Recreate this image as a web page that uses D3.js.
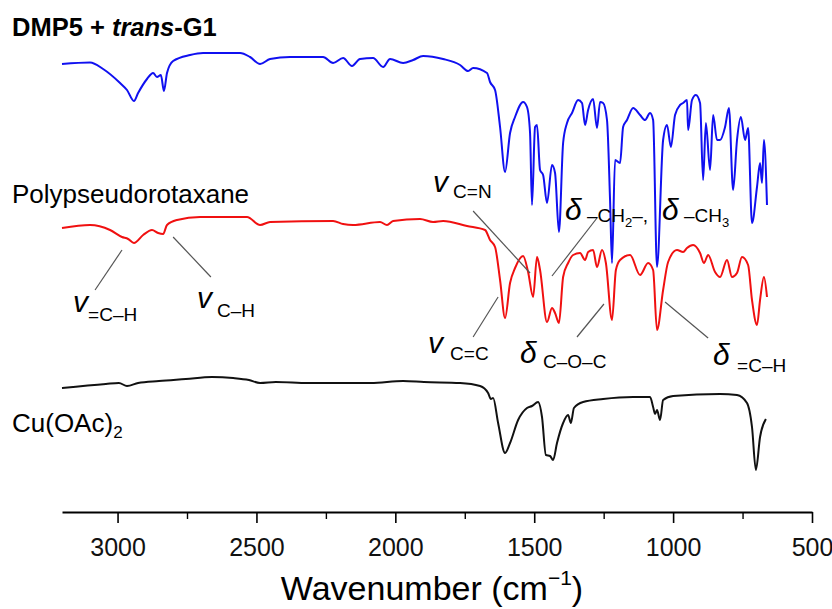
<!DOCTYPE html>
<html>
<head>
<meta charset="utf-8">
<script src="https://cdn.jsdelivr.net/npm/d3@7"></script>
<style>
  body { margin: 0; background: #fff; }
  svg { font-family: "Liberation Sans", Arial, sans-serif; }
</style>
</head>
<body>
<div id="chart"></div>
<script>
// wavenumber (cm-1) and stacked transmittance (a.u.)
var blueWn = [3200,3099,3052,2991,2966,2941,2926,2894,2872,2858,2844,2833,2822,2800,2739,2692,2559,2523,2487,2451,2379,2260,2224,2188,2156,2127,2080,2044,2019,1972,1936,1900,1828,1767,1738,1720,1670,1659,1641,1623,1605,1587,1569,1540,1526,1515,1508,1497,1490,1479,1468,1454,1436,1425,1411,1396,1382,1364,1342,1328,1317,1306,1288,1274,1263,1252,1238,1227,1220,1209,1191,1180,1166,1144,1119,1101,1083,1072,1058,1036,1022,1008,993,975,964,950,946,932,918,903,892,882,867,856,842,831,813,799,784,770,756,741,730,716,698,687,680,673,662];
var blueT  = [89.6,89.9,88.6,85.8,84.4,82.2,83.8,86.6,87.8,87.0,87.4,84.2,87.8,90.2,91.4,91.8,91.8,91.0,89.6,90.6,91.0,91.0,89.8,90.8,89.2,90.6,90.8,89.0,90.6,89.8,90.4,91.2,90.6,89.4,88.2,88.8,87.8,86.0,84.4,77.0,68.0,75.8,79.0,82.0,81.0,75.8,61.4,77.0,77.4,68.4,67.4,61.8,69.4,67.8,56.0,73.8,77.8,79.8,82.4,81.8,77.4,80.4,82.6,76.8,82.0,81.8,78.4,62.4,49.8,70.4,69.8,77.0,78.4,80.8,79.4,78.4,79.8,78.4,49.0,74.4,77.4,73.0,79.4,81.4,81.8,82.4,76.4,82.4,83.4,81.8,66.4,77.8,68.4,79.4,74.4,74.4,77.0,80.8,64.4,74.4,79.0,74.4,76.8,57.8,65.0,69.8,65.8,74.4,61.4];

var redWn = [3200,3099,3027,2984,2962,2941,2908,2876,2854,2836,2822,2786,2703,2534,2487,2451,2224,2188,2152,2055,2030,2008,1911,1864,1828,1742,1677,1659,1641,1623,1605,1587,1569,1540,1522,1504,1490,1479,1454,1436,1425,1411,1396,1378,1360,1335,1317,1306,1288,1274,1256,1242,1220,1206,1191,1155,1119,1090,1072,1058,1036,1018,986,964,950,928,903,889,874,849,831,806,788,770,752,730,716,698,687,673,662];
var redT  = [56.8,57.4,56.4,55.0,54.6,53.8,55.4,56.4,55.8,55.6,57.4,58.4,59.0,59.0,57.4,58.0,58.2,57.6,57.4,58.0,57.4,58.2,58.6,58.0,58.2,57.2,56.4,54.4,53.0,46.4,38.8,45.8,48.8,51.2,48.0,43.0,51.0,48.4,38.0,40.8,39.8,37.8,47.0,49.8,51.4,51.8,50.4,52.0,52.4,49.0,52.4,49.8,38.4,48.4,50.4,51.4,47.4,49.8,48.4,36.4,44.4,50.0,52.4,52.0,52.8,53.4,51.8,49.8,51.4,48.0,47.0,50.4,47.0,47.8,51.0,49.4,42.4,37.4,42.4,47.0,43.0];

var blackWn = [3200,3042,2995,2966,2926,2851,2754,2660,2584,2527,2487,2430,2314,2088,1972,1897,1767,1695,1666,1656,1648,1630,1605,1587,1558,1526,1508,1486,1472,1458,1443,1432,1418,1396,1378,1368,1357,1324,1252,1144,1083,1072,1065,1058,1047,1036,1000,831,770,734,716,702,687,666];
var blackT  = [24.8,25.6,25.8,25.2,25.8,26.2,26.6,27.0,26.8,26.4,25.8,26.0,25.8,25.8,26.2,26.0,25.8,25.2,23.8,22.6,22.8,17.8,11.8,13.8,18.4,20.8,21.2,22.0,19.0,11.4,11.2,10.4,13.8,17.8,19.4,17.8,20.8,22.0,22.6,23.0,23.0,21.0,19.6,20.4,18.4,22.4,23.2,23.6,23.4,21.8,17.0,8.4,15.0,18.6];

var seriesNames  = ["DMP5 + trans-G1", "Polypseudorotaxane", "Cu(OAc)2"];
var seriesColors = ["#1010f0", "#f01010", "#111111"];

var majorTicks = [3000, 2500, 2000, 1500, 1000, 500];
var minorTicks = [2750, 2250, 1750, 1250, 750];

// band assignments: symbol, subscript, label anchor, pointer from -> to
var annotations = [
  {sym: "v", sub: "=C\u2013H", at: [3160, 40.0], gap: 15, drop: 9, from: [3081, 44.4], to: [2984, 52.4]},
  {sym: "v", sub: "C\u2013H",  at: [2714, 40.8], gap: 20, drop: 9, from: [2664, 47.0], to: [2800, 55.0]},
  {sym: "v", sub: "C=N",  at: [1864, 64.0], gap: 20, drop: 6, from: [1720, 60.2], to: [1515, 47.8]},
  {sym: "v", sub: "C=C",  at: [1882, 31.8], gap: 22, drop: 7, from: [1720, 35.0], to: [1630, 43.0]},
  {sym: "\u03b4", sub: "C\u2013O\u2013C", at: [1551, 29.8], gap: 23, drop: 5, from: [1346, 35.0], to: [1249, 41.6]},
  {sym: "\u03b4", sub: "=C\u2013H", at: [856, 29.4], gap: 24, drop: 7, from: [1029, 42.0], to: [874, 34.8]}
];

var W = 832, H = 609;
var svg = d3.select("#chart").append("svg")
  .attr("width", W).attr("height", H);

var x = d3.scaleLinear().domain([3200, 500]).range([62, 812]);
var y = d3.scaleLinear().domain([0, 100]).range([512, 12]);

var line = d3.line()
  .x(d => x(d[0]))
  .y(d => y(d[1]))
  .curve(d3.curveMonotoneX);

var spectra = [d3.zip(blueWn, blueT), d3.zip(redWn, redT), d3.zip(blackWn, blackT)];
spectra.forEach(function(s, i) {
  svg.append("path")
    .datum(s)
    .attr("d", line)
    .attr("fill", "none")
    .attr("stroke", seriesColors[i])
    .attr("stroke-width", 2)
    .attr("stroke-linejoin", "round");
});

// series labels
svg.append("text").attr("x", 12).attr("y", 36)
  .style("font-size", "25.5px").style("font-weight", "bold")
  .call(t => {
    t.append("tspan").text("DMP5 + ");
    t.append("tspan").style("font-style", "italic").text("trans");
    t.append("tspan").text("-G1");
  });
svg.append("text").attr("x", 12).attr("y", 203)
  .style("font-size", "26px").text(seriesNames[1]);
svg.append("text").attr("x", 12).attr("y", 432)
  .style("font-size", "26px")
  .call(t => {
    t.append("tspan").text("Cu(OAc)");
    t.append("tspan").attr("dy", 6).style("font-size", "17px").text("2");
  });

// pointer lines and labels
var ann = svg.append("g");
annotations.forEach(function(a) {
  ann.append("line")
    .attr("x1", x(a.from[0])).attr("y1", y(a.from[1]))
    .attr("x2", x(a.to[0])).attr("y2", y(a.to[1]))
    .attr("stroke", "#555").attr("stroke-width", 1.2);
  ann.append("text")
    .attr("x", x(a.at[0])).attr("y", y(a.at[1]))
    .style("font-size", "30px").style("font-style", "italic")
    .text(a.sym);
  ann.append("text")
    .attr("x", x(a.at[0]) + a.gap).attr("y", y(a.at[1]) + a.drop)
    .style("font-size", "19px")
    .text(a.sub);
});

// the combined CH2 / CH3 deformation label
ann.append("line")
  .attr("x1", x(1274)).attr("y1", y(58.8))
  .attr("x2", x(1436)).attr("y2", y(47.2))
  .attr("stroke", "#555").attr("stroke-width", 1.2);
var dx0 = x(1389), dy0 = y(58.4);
var lab = ann.append("text").attr("y", dy0);
lab.append("tspan").attr("x", dx0).style("font-size", "30px").style("font-style", "italic").text("\u03b4");
lab.append("tspan").attr("x", dx0 + 22).attr("dy", 2).style("font-size", "19px").text("\u2013CH");
lab.append("tspan").attr("dy", 5).style("font-size", "13px").text("2");
lab.append("tspan").attr("dy", -5).style("font-size", "19px").text("\u2013,");
lab.append("tspan").attr("x", dx0 + 97).attr("dy", -2).style("font-size", "30px").style("font-style", "italic").text("\u03b4");
lab.append("tspan").attr("x", dx0 + 119).attr("dy", 2).style("font-size", "19px").text("\u2013CH");
lab.append("tspan").attr("dy", 5).style("font-size", "13px").text("3");

// x axis
var axisY = 512;
var gx = svg.append("g").attr("transform", `translate(0,${axisY})`)
  .call(d3.axisBottom(x).tickValues(majorTicks).tickSize(11).tickSizeOuter(0).tickPadding(15).tickFormat(d3.format("d")));
gx.select(".domain").attr("stroke-width", 2);
gx.selectAll(".tick line").attr("stroke-width", 1.6);
gx.selectAll(".tick text").style("font-size", "25px").attr("fill", "#111");
gx.attr("font-family", null);

svg.append("g").attr("transform", `translate(0,${axisY})`)
  .call(d3.axisBottom(x).tickValues(minorTicks).tickSize(7).tickSizeOuter(0).tickFormat(""))
  .call(g => g.select(".domain").remove())
  .selectAll(".tick line").attr("stroke-width", 1.4);

// axis title
var title = svg.append("text")
  .attr("x", 432).attr("y", 600)
  .attr("text-anchor", "middle")
  .style("font-size", "34px");
title.append("tspan").text("Wavenumber (cm");
title.append("tspan").attr("dy", -15).style("font-size", "21px").text("\u22121");
title.append("tspan").attr("dy", 15).text(")");
</script>
</body>
</html>
